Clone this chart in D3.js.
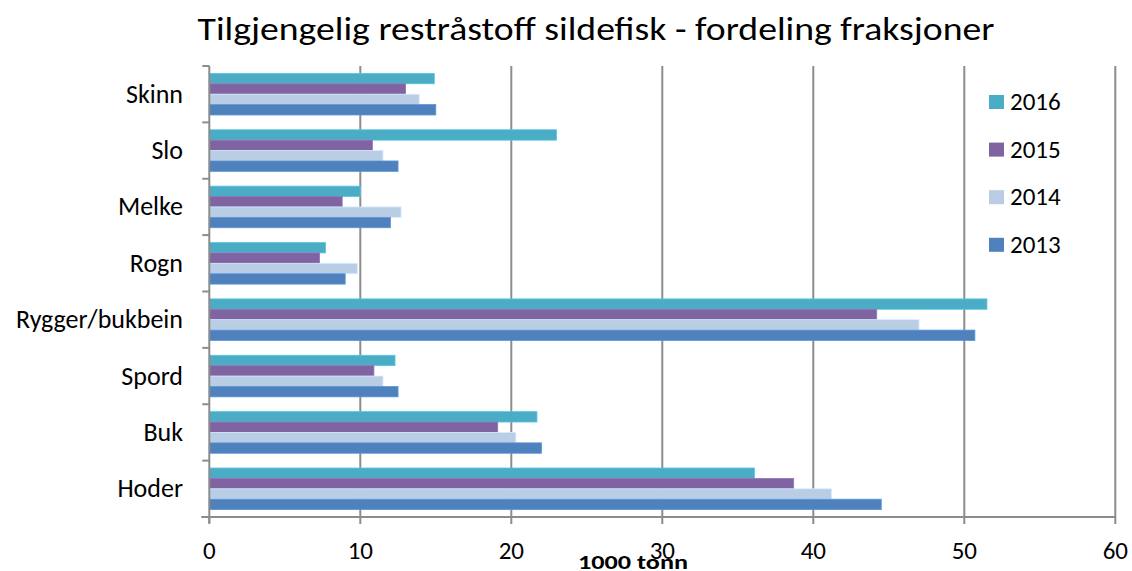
<!DOCTYPE html>
<html>
<head>
<meta charset="utf-8">
<script src="https://cdn.jsdelivr.net/npm/d3@7"></script>
<style>
body { margin: 0; background: #fff; }
text { font-family: Carlito, Calibri, Lato, sans-serif; fill: #000; }
</style>
</head>
<body>
<svg id="chart" width="1132" height="571"></svg>
<script>
// categories, top to bottom as drawn
categories = ['Skinn', 'Slo', 'Melke', 'Rogn', 'Rygger/bukbein', 'Spord', 'Buk', 'Hoder'];
years = ['2016', '2015', '2014', '2013'];

v2016 = [14.9, 23.0, 10.0, 7.7, 51.5, 12.3, 21.7, 36.1];
v2015 = [13.0, 10.8, 8.8, 7.3, 44.2, 10.9, 19.1, 38.7];
v2014 = [13.9, 11.5, 12.7, 9.8, 47.0, 11.5, 20.3, 41.2];
v2013 = [15.0, 12.5, 12.0, 9.0, 50.7, 12.5, 22.0, 44.5];
seriesValues = {'2016': v2016, '2015': v2015, '2014': v2014, '2013': v2013};

xTicks = [0, 10, 20, 30, 40, 50, 60];
colors = {'2016': '#4BACC6', '2015': '#8064A2', '2014': '#B9CDE5', '2013': '#4F81BD'};

plotLeft = 209.3; plotRight = 1115.3; plotTop = 66; plotBottom = 517;
gridColor = '#8c8c8c';

const svg = d3.select('#chart');

const x = d3.scaleLinear().domain([0, 60]).range([plotLeft, plotRight]);
const y = d3.scaleBand().domain(categories).range([plotTop, plotBottom]).paddingInner(0).paddingOuter(0);
const ySub = d3.scaleBand().domain(years).range([0, y.bandwidth()]).paddingInner(0).paddingOuter(0.71);

// title
svg.append('text')
	.attr('x', 596)
	.attr('y', 40)
	.attr('text-anchor', 'middle')
	.style('font-size', '32px')
	.style('font-weight', 300)
	.attr('textLength', 797)
	.attr('lengthAdjust', 'spacingAndGlyphs')
	.text('Tilgjengelig restråstoff sildefisk - fordeling fraksjoner');

// vertical gridlines
svg.append('g').selectAll('line')
	.data(xTicks.slice(1))
	.join('line')
		.attr('x1', d => x(d)).attr('x2', d => x(d))
		.attr('y1', plotTop).attr('y2', plotBottom)
		.attr('stroke', gridColor)
		.attr('stroke-width', 2);

// bars
const groups = svg.append('g').selectAll('g')
	.data(categories)
	.join('g')
		.attr('transform', d => `translate(0,${y(d)})`);

groups.selectAll('rect')
	.data((c, i) => years.map(yr => ({year: yr, value: seriesValues[yr][i]})))
	.join('rect')
		.attr('x', x(0))
		.attr('y', d => ySub(d.year))
		.attr('width', d => x(d.value) - x(0))
		.attr('height', ySub.bandwidth())
		.attr('fill', d => colors[d.year])
		.attr('stroke', d => d3.color(colors[d.year]).brighter(0.4))
		.attr('stroke-width', 0.8);

// category axis
const yAxis = svg.append('g');
yAxis.append('line')
	.attr('x1', plotLeft).attr('x2', plotLeft)
	.attr('y1', plotTop).attr('y2', plotBottom + 6)
	.attr('stroke', gridColor).attr('stroke-width', 2);
yAxis.selectAll('line.tick')
	.data(d3.range(categories.length + 1))
	.join('line')
		.attr('class', 'tick')
		.attr('x1', plotLeft - 7).attr('x2', plotLeft)
		.attr('y1', i => plotTop + i * y.step()).attr('y2', i => plotTop + i * y.step())
		.attr('stroke', gridColor).attr('stroke-width', 2);
yAxis.selectAll('text')
	.data(categories)
	.join('text')
		.attr('x', 183)
		.attr('y', d => y(d) + y.bandwidth() / 2 + 8.5)
		.attr('text-anchor', 'end')
		.style('font-size', '26px')
		.text(d => d);

// value axis
const xAxis = svg.append('g');
xAxis.append('line')
	.attr('x1', plotLeft - 8).attr('x2', plotRight)
	.attr('y1', plotBottom).attr('y2', plotBottom)
	.attr('stroke', gridColor).attr('stroke-width', 2);
xAxis.selectAll('line.tick')
	.data(xTicks)
	.join('line')
		.attr('class', 'tick')
		.attr('x1', d => x(d)).attr('x2', d => x(d))
		.attr('y1', plotBottom).attr('y2', plotBottom + 7)
		.attr('stroke', gridColor).attr('stroke-width', 2);
xAxis.selectAll('text')
	.data(xTicks)
	.join('text')
		.attr('x', d => x(d))
		.attr('y', 559)
		.attr('text-anchor', 'middle')
		.style('font-size', '25px')
		.text(d => d);

svg.append('text')
	.attr('x', 633)
	.attr('y', 569)
	.attr('text-anchor', 'middle')
	.style('font-size', '21px')
	.style('font-weight', 'bold')
	.attr('textLength', 110)
	.attr('lengthAdjust', 'spacingAndGlyphs')
	.text('1000 tonn');

// legend
const legend = svg.append('g').selectAll('g')
	.data(years)
	.join('g')
		.attr('transform', (d, i) => `translate(989,${95 + i * 47.6})`);
legend.append('rect')
	.attr('width', 15).attr('height', 14)
	.attr('fill', d => colors[d]);
legend.append('text')
	.attr('x', 21)
	.attr('y', 15)
	.style('font-size', '25px')
	.text(d => d);
</script>
</body>
</html>
